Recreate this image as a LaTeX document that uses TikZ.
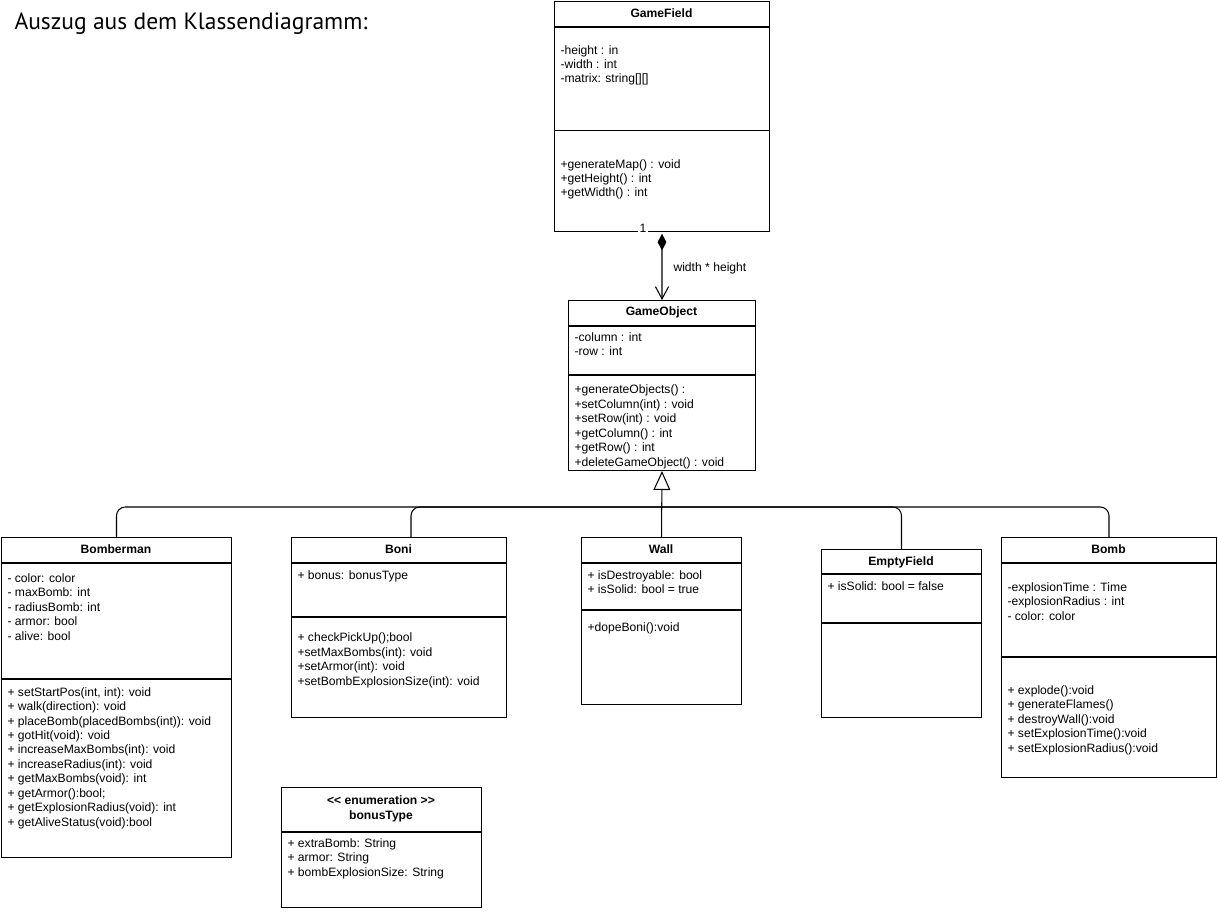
\documentclass[tikz,border=0pt]{standalone}
\usepackage{fontspec}
\setmainfont{Liberation Sans}
\newfontfamily\headfont{PT Sans}
\usetikzlibrary{arrows.meta}
\tikzset{
  classbox/.style={draw, anchor=north west, inner sep=0pt},
  members/.style={anchor=base west, align=left, inner sep=0pt, font=\fontsize{6.9}{8.2}\selectfont},
  classname/.style={anchor=base, align=center, inner sep=0pt, font=\fontsize{6.9}{8.2}\selectfont\bfseries},
  branch/.style={rounded corners=5pt},
}
\begin{document}
\begin{tikzpicture}[x=0.02cm, y=-0.02cm, line width=0.6pt]
\useasboundingbox (0,0) rectangle (1218,912);
\node[anchor=base west, inner sep=0pt, font=\headfont\fontsize{13.4}{16}\selectfont] (heading) at (14,30) {Auszug aus dem Klassendiagramm:};
\node[classbox, minimum width=4.3cm, minimum height=4.6cm] (gf) at (554,1) {};
\draw ([yshift=-0.52cm]gf.north west) -- ([yshift=-0.52cm]gf.north east);
\draw ([yshift=-2.6cm]gf.north west) -- ([yshift=-2.6cm]gf.north east);
\node[classname] (gfname) at (661.5,18) {GameField};
\node[members] (gfattr) at (560,83) {-height : in\\-width : int\\-matrix: string[][]};
\node[members] (gfops) at (560,197) {+generateMap() : void\\+getHeight() : int\\+getWidth() : int};
\node[classbox, minimum width=3.74cm, minimum height=3.4cm] (go) at (568,300) {};
\draw ([yshift=-0.52cm]go.north west) -- ([yshift=-0.52cm]go.north east);
\draw ([yshift=-1.5cm]go.north west) -- ([yshift=-1.5cm]go.north east);
\node[classname] (goname) at (661.5,316) {GameObject};
\node[members] (goattr) at (574,355.5) {-column : int\\-row : int};
\node[members] (goops) at (574,466) {+generateObjects() :\\+setColumn(int) : void\\+setRow(int) : void\\+getColumn() : int\\+getRow() : int\\+deleteGameObject() : void};
\node[classbox, minimum width=4.6cm, minimum height=6.4cm] (bm) at (1,537) {};
\draw ([yshift=-0.52cm]bm.north west) -- ([yshift=-0.52cm]bm.north east);
\draw ([yshift=-2.84cm]bm.north west) -- ([yshift=-2.84cm]bm.north east);
\node[classname] (bmname) at (116,553) {Bomberman};
\node[members] (bmattr) at (7,640) {- color: color\\- maxBomb: int\\- radiusBomb: int\\- armor: bool\\- alive: bool};
\node[members] (bmops) at (7,826) {+ setStartPos(int, int): void\\+ walk(direction): void\\+ placeBomb(placedBombs(int)): void\\+ gotHit(void): void\\+ increaseMaxBombs(int): void\\+ increaseRadius(int): void\\+ getMaxBombs(void): int\\+ getArmor():bool;\\+ getExplosionRadius(void): int\\+ getAliveStatus(void):bool};
\node[classbox, minimum width=4.3cm, minimum height=3.6cm] (boni) at (291,537) {};
\draw ([yshift=-0.52cm]boni.north west) -- ([yshift=-0.52cm]boni.north east);
\draw ([yshift=-1.6cm]boni.north west) -- ([yshift=-1.6cm]boni.north east);
\node[classname] (boniname) at (398.5,553) {Boni};
\node[members] (boniattr) at (297,579) {+ bonus: bonusType};
\node[members] (boniops) at (297,685) {+ checkPickUp();bool\\+setMaxBombs(int): void\\+setArmor(int): void\\+setBombExplosionSize(int): void};
\node[classbox, minimum width=3.2cm, minimum height=3.34cm] (wall) at (581,537) {};
\draw ([yshift=-0.52cm]wall.north west) -- ([yshift=-0.52cm]wall.north east);
\draw ([yshift=-1.46cm]wall.north west) -- ([yshift=-1.46cm]wall.north east);
\node[classname] (wallname) at (661,553) {Wall};
\node[members] (wallattr) at (587,593.5) {+ isDestroyable: bool\\+ isSolid: bool = true};
\node[members] (wallops) at (587,631) {+dopeBoni():void};
\node[classbox, minimum width=3.2cm, minimum height=3.36cm] (ef) at (821,549) {};
\draw ([yshift=-0.5cm]ef.north west) -- ([yshift=-0.5cm]ef.north east);
\draw ([yshift=-1.48cm]ef.north west) -- ([yshift=-1.48cm]ef.north east);
\node[classname] (efname) at (901,565) {EmptyField};
\node[members] (efattr) at (827,590) {+ isSolid: bool = false};
\node[classbox, minimum width=4.3cm, minimum height=4.8cm] (bomb) at (1001,537) {};
\draw ([yshift=-0.52cm]bomb.north west) -- ([yshift=-0.52cm]bomb.north east);
\draw ([yshift=-2.4cm]bomb.north west) -- ([yshift=-2.4cm]bomb.north east);
\node[classname] (bombname) at (1108.5,553) {Bomb};
\node[members] (bombattr) at (1007,620) {-explosionTime : Time\\-explosionRadius : int\\- color: color};
\node[members] (bombops) at (1007,752) {+ explode():void\\+ generateFlames()\\+ destroyWall():void\\+ setExplosionTime():void\\+ setExplosionRadius():void};
\node[classbox, minimum width=4cm, minimum height=2.4cm] (bt) at (281,787) {};
\draw ([yshift=-0.9cm]bt.north west) -- ([yshift=-0.9cm]bt.north east);
\node[classname] (btname) at (381,819) {{<}{<} enumeration {>}{>}\\bonusType};
\node[members] (btattr) at (287,876) {+ extraBomb: String\\+ armor: String\\+ bombExplosionSize: String};
\draw[{Diamond[width=5pt,length=9.5pt]}-{Straight Barb[length=7pt,width=7.5pt]}] ([yshift=-1pt]gf.south) -- (go.north);
\node[fill=white, inner sep=1.2pt, font=\fontsize{6.9}{8.2}\selectfont] (mult) at (643,228) {1};
\node[members] (role) at (673,272) {width * height};
\coordinate (bus) at (661,507);
\coordinate (boniin) at (411,537);
\draw[-{Triangle[open,width=9.6pt,length=10.8pt]}] (wall.north) -- (go.south);
\draw[branch] (bm.north) |- (bus);
\draw[branch] (boniin) |- (bus);
\draw[branch] (ef.north) |- (bus);
\draw[branch] (bomb.north) |- (bus);
\end{tikzpicture}
\end{document}
